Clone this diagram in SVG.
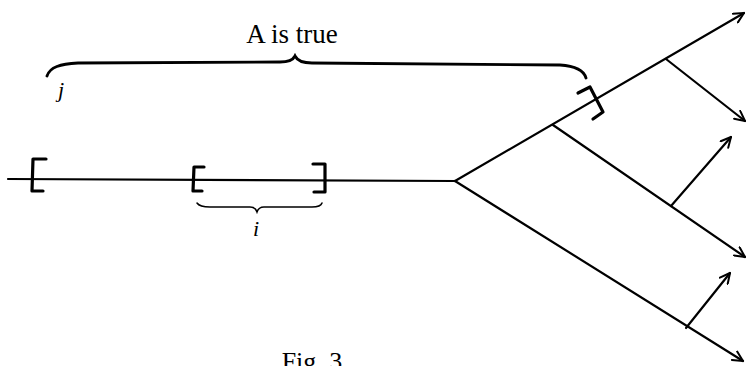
<svg xmlns="http://www.w3.org/2000/svg" width="746" height="366" viewBox="0 0 746 366">
<style>
.ln{stroke:#000;stroke-width:2.2;fill:none;stroke-linecap:round;stroke-linejoin:round}
.br{stroke:#000;stroke-width:3.2;fill:none;stroke-linecap:round;stroke-linejoin:round}
.brace{stroke:#000;fill:none;stroke-linecap:round}
.t{font-family:"Liberation Serif","Times New Roman",serif;fill:#000}
.it{font-style:italic}
</style>
<defs>
<marker id="ah" viewBox="0 0 12 12" refX="11" refY="6" markerWidth="12" markerHeight="12" markerUnits="userSpaceOnUse" orient="auto">
<path d="M1,1 L11,6 L1,11" fill="none" stroke="#000" stroke-width="2" stroke-linejoin="round" stroke-linecap="round"/>
</marker>
</defs>
<g id="connectors">
<line class="ln" x1="8" y1="179" x2="455" y2="181"/>
<line class="ln" x1="455" y1="181" x2="744" y2="13" marker-end="url(#ah)"/>
<line class="ln" x1="455" y1="181" x2="743" y2="361" marker-end="url(#ah)"/>
<line class="ln" x1="553" y1="125" x2="745" y2="257" marker-end="url(#ah)"/>
<line class="ln" x1="666" y1="59" x2="745" y2="121" marker-end="url(#ah)"/>
<line class="ln" x1="671" y1="206" x2="731" y2="137" marker-end="url(#ah)"/>
<line class="ln" x1="686" y1="328" x2="730" y2="273" marker-end="url(#ah)"/>
</g>
<g id="brackets">
<path class="br" d="M46,159 L33,159 L32,191 L43,191"/>
<path class="br" d="M204,167 L194,167 L193,191 L202,191"/>
<path class="br" d="M313,164 L325,164 L325,192 L314,192"/>
<path class="br" d="M578,93 L590,87 L603,112 L593,119"/>
</g>
<g id="braces">
<path class="brace" stroke-width="2.8" d="M47,76 C50,67 60,64 78,63 L280,62 C289,62 293,60 295,56 C297,60 301,63 312,63 L560,65 C576,66 584,71 586,78"/>
<path class="brace" stroke-width="1.5" d="M197,203 C199,206 203,207 210,207 L250,207 C254,207 256,209 257,212 C258,209 260,207 264,207 L312,207 C318,207 321,206 322,203"/>
</g>
<g id="labels">
<text class="t" x="292" y="43" font-size="27" text-anchor="middle">A is true</text>
<text class="t it" x="61" y="97" font-size="22" text-anchor="middle">j</text>
<text class="t it" x="256" y="236" font-size="22" text-anchor="middle">i</text>
<text class="t" x="312" y="370" font-size="26" text-anchor="middle">Fig. 3</text>
</g>
</svg>
